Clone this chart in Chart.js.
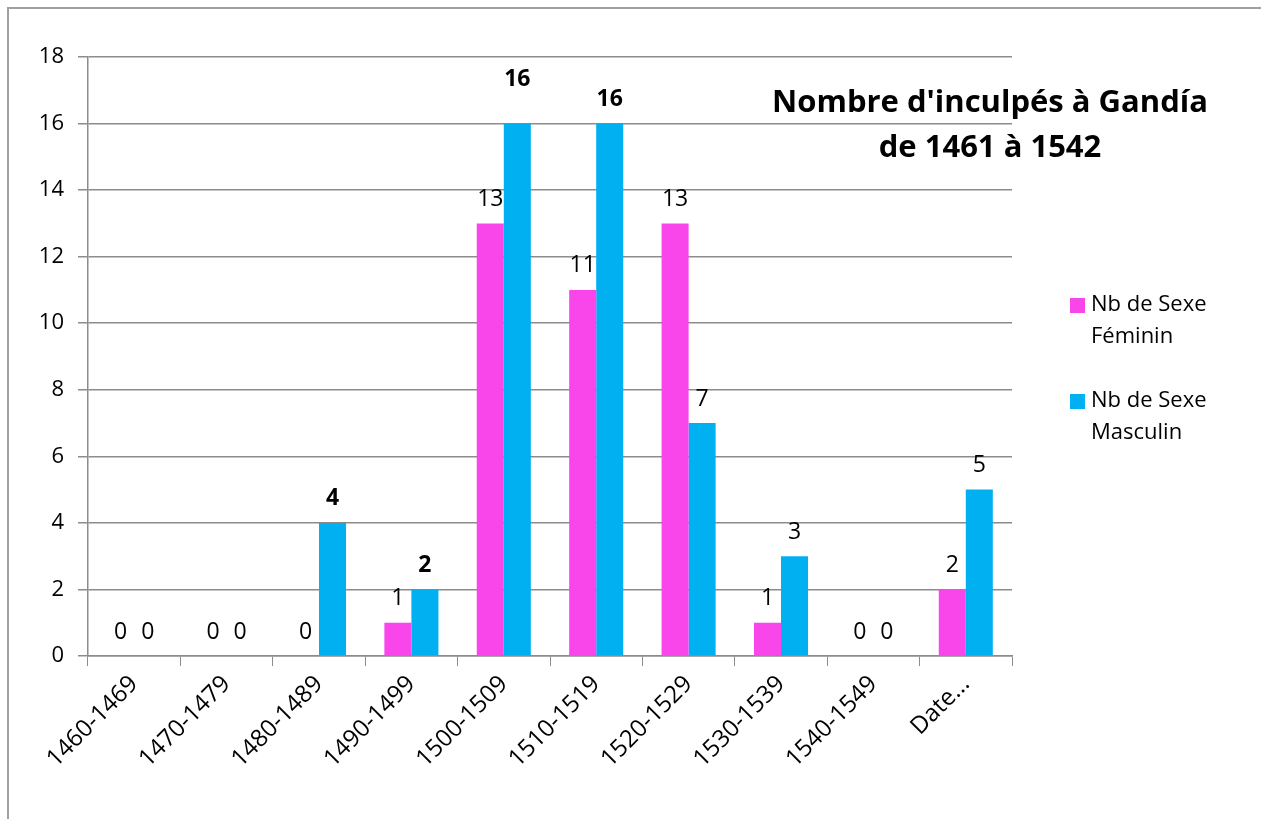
<!DOCTYPE html>
<html>
<head>
<meta charset="utf-8">
<script src="https://cdn.jsdelivr.net/npm/chart.js@4/dist/chart.umd.min.js"></script>
<style>
html,body{margin:0;padding:0;background:#fff;}
#wrap{width:1261px;height:819px;position:relative;}
</style>
</head>
<body>
<div id="wrap"><canvas id="c" width="1261" height="819"></canvas></div>
<script>
const categories = ["1460-1469","1470-1479","1480-1489","1490-1499","1500-1509","1510-1519","1520-1529","1530-1539","1540-1549","Date..."];
const feminin = [0,0,0,1,13,11,13,1,0,2];
const masculin = [0,0,4,2,16,16,7,3,0,5];
const yTicks = [0,2,4,6,8,10,12,14,16,18];
const seriesNames = [["Nb de Sexe","Féminin"],["Nb de Sexe","Masculin"]];
const titleLines = ["Nombre d'inculpés à Gandía","de 1461 à 1542"];

const FONT = "'Open Sans', Lato, sans-serif";
const PINK = "#F946EB";
const BLUE = "#00B0F0";
const GRID = "#8C8C8C";

const decor = {
  id: 'decor',
  beforeDraw(chart) {
    const ctx = chart.ctx;
    ctx.save();
    ctx.fillStyle = '#fff';
    ctx.fillRect(0,0,chart.width,chart.height);
    ctx.strokeStyle = '#A0A0A0';
    ctx.lineWidth = 2;
    ctx.beginPath();
    ctx.moveTo(8, chart.height);
    ctx.lineTo(8, 8);
    ctx.lineTo(chart.width, 8);
    ctx.stroke();
    ctx.restore();
  },
  afterDatasetsDraw(chart) {
    const ctx = chart.ctx;
    ctx.save();
    ctx.textAlign = 'center';
    ctx.textBaseline = 'middle';
    ctx.fillStyle = '#000';
    const boldSets = {1: [2,3,4,5]};
    const extraOffset = {1: {4: 20}};
    chart.data.datasets.forEach((ds, di) => {
      const meta = chart.getDatasetMeta(di);
      meta.data.forEach((bar, i) => {
        const bold = (boldSets[di] || []).includes(i);
        ctx.font = (bold ? 'bold ' : '') + '23px ' + FONT;
        const off = 24 + ((extraOffset[di] || {})[i] || 0);
        ctx.fillText(String(ds.data[i]), bar.x, bar.y - off);
      });
    });
    // title
    ctx.font = 'bold 31px ' + FONT;
    ctx.fillText(titleLines[0], 990, 103);
    ctx.fillText(titleLines[1], 990, 148);
    // legend
    const colors = [PINK, BLUE];
    const tops = [305, 401];
    ctx.textAlign = 'left';
    ctx.font = '22px ' + FONT;
    seriesNames.forEach((lines, k) => {
      ctx.fillStyle = colors[k];
      ctx.fillRect(1070, tops[k] - 7, 15, 15);
      ctx.fillStyle = '#000';
      lines.forEach((t, j) => ctx.fillText(t, 1091, tops[k] + j * 32));
    });
    ctx.restore();
  }
};

new Chart(document.getElementById('c'), {
  type: 'bar',
  data: {
    labels: categories,
    datasets: [
      {label: seriesNames[0].join(' '), data: feminin, backgroundColor: PINK, borderWidth: 0},
      {label: seriesNames[1].join(' '), data: masculin, backgroundColor: BLUE, borderWidth: 0}
    ]
  },
  options: {
    responsive: false,
    animation: false,
    layout: {padding: {left: 0, top: 57, right: 249, bottom: 0}},
    plugins: {legend: {display: false}, title: {display: false}, tooltip: {enabled: false}},
    datasets: {bar: {categoryPercentage: 0.585, barPercentage: 1}},
    scales: {
      x: {
        afterFit(s) { s.height = 163; },
        grid: {display: true, drawOnChartArea: false, drawTicks: true, tickLength: 10, color: GRID, offset: true},
        border: {display: true, color: GRID, width: 1.5},
        ticks: {minRotation: 45, maxRotation: 45, autoSkip: false, color: '#000', font: {family: FONT, size: 24}, padding: 4}
      },
      y: {
        min: 0, max: 18,
        afterFit(s) { s.width = 88; },
        afterBuildTicks(s) { s.ticks = yTicks.map(v => ({value: v})); },
        grid: {color: GRID, lineWidth: 1.5, tickLength: 10},
        border: {display: true, color: GRID, width: 1.5},
        ticks: {color: '#000', font: {family: FONT, size: 22}, padding: 14}
      }
    }
  },
  plugins: [decor]
});
</script>
</body>
</html>
